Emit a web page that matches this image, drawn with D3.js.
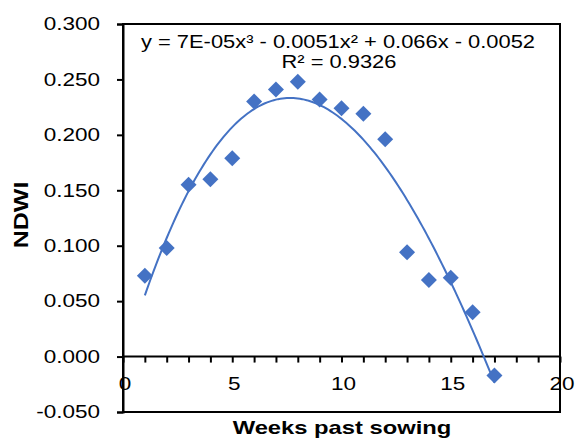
<!DOCTYPE html>
<html>
<head>
<meta charset="utf-8">
<script src="https://cdn.jsdelivr.net/npm/d3@7"></script>
<style>
  body { margin: 0; background: #fff; }
  svg text { font-family: "Liberation Sans", Arial, sans-serif; fill: #000; }
</style>
</head>
<body>
<svg id="chart" width="582" height="440"></svg>
<script>
// data
var weeks = [1, 2, 3, 4, 5, 6, 7, 8, 9, 10, 11, 12, 13, 14, 15, 16, 17];
var ndwi = [0.073, 0.098, 0.155, 0.160, 0.179, 0.230, 0.241, 0.248, 0.232,
            0.224, 0.219, 0.196, 0.094, 0.069, 0.071, 0.040, -0.017];
var xTicks = [0, 5, 10, 15, 20];
var yTicks = [-0.05, 0, 0.05, 0.1, 0.15, 0.2, 0.25, 0.3];
var eqText = "y = 7E-05x\u00b3  - 0.0051x\u00b2  + 0.066x - 0.0052";
var r2Text = "R\u00b2 = 0.9326";

var svg = d3.select("#chart");
var plotL = 123, plotR = 560, plotT = 24, plotB = 412;
var blue = "#4472c4";
var stretch = 1.25; // the source text is drawn wide

var x = d3.scaleLinear().domain([0, 20]).range([plotL, plotR]);
var y = d3.scaleLinear().domain([-0.05, 0.3]).range([plotB, plotT]);

// widen text glyphs to match the reference
function widen(sel) {
  sel.each(function() {
    var w = this.getComputedTextLength();
    d3.select(this).attr("textLength", w * stretch).attr("lengthAdjust", "spacingAndGlyphs");
  });
}

// cubic least squares, like the spreadsheet trendline
function polyfit(xs, ys, deg) {
  var n = deg + 1;
  var A = [];
  for (var i = 0; i < n; i++) {
    A.push([]);
    for (var j = 0; j <= n; j++) A[i].push(0);
  }
  xs.forEach(function(xv, k) {
    for (var i = 0; i < n; i++) {
      for (var j = 0; j < n; j++) A[i][j] += Math.pow(xv, i + j);
      A[i][n] += ys[k] * Math.pow(xv, i);
    }
  });
  for (var c = 0; c < n; c++) {
    var p = c;
    for (var r = c + 1; r < n; r++) if (Math.abs(A[r][c]) > Math.abs(A[p][c])) p = r;
    var tmp = A[c]; A[c] = A[p]; A[p] = tmp;
    for (var r = 0; r < n; r++) {
      if (r == c) continue;
      var f = A[r][c] / A[c][c];
      for (var j = c; j <= n; j++) A[r][j] -= f * A[c][j];
    }
  }
  return A.map(function(row, i) { return row[n] / row[i]; });
}
var coef = polyfit(weeks, ndwi, 3);
function fit(v) { return coef[0] + coef[1] * v + coef[2] * v * v + coef[3] * v * v * v; }

// plot frame
svg.append("rect")
  .attr("x", plotL).attr("y", plotT)
  .attr("width", plotR - plotL).attr("height", plotB - plotT)
  .attr("fill", "none").attr("stroke", "#000").attr("stroke-width", 2);

// y axis
var fmt = d3.format(".3f");
var yAxis = d3.axisLeft(y).tickValues(yTicks).tickSize(6).tickPadding(17)
  .tickFormat(function(d) { return fmt(d).replace("\u2212", "-"); });
var gy = svg.append("g").attr("transform", "translate(" + plotL + ",0)").call(yAxis);
gy.select(".domain").attr("stroke-width", 2);
gy.selectAll(".tick line").attr("stroke-width", 2);
gy.selectAll("text").attr("font-size", 18)
  .style("font-family", "Liberation Sans, Arial, sans-serif")
  .call(widen);

// x axis sits on y = 0
var xAxis = d3.axisBottom(x).ticks(20).tickSize(6).tickFormat("");
var gx = svg.append("g").attr("transform", "translate(0," + y(0) + ")").call(xAxis);
gx.select(".domain").attr("d", "M" + plotL + ",0H" + plotR).attr("stroke-width", 2);
gx.selectAll(".tick line").attr("stroke-width", 2);

svg.append("g").selectAll("text")
  .data(xTicks).enter()
  .append("text")
  .attr("x", function(d) { return x(d) + 2; })
  .attr("y", y(0) + 33)
  .attr("text-anchor", "middle")
  .attr("font-size", 18)
  .text(function(d) { return d; })
  .call(widen);

// trendline
var curveX = d3.range(1, 17.001, 0.1);
svg.append("path")
  .datum(curveX)
  .attr("fill", "none")
  .attr("stroke", blue)
  .attr("stroke-width", 2)
  .attr("d", d3.line().x(function(d) { return x(d); }).y(function(d) { return y(fit(d)); }));

// points
svg.append("g").selectAll("path")
  .data(weeks).enter()
  .append("path")
  .attr("transform", function(d, i) { return "translate(" + x(d) + "," + y(ndwi[i]) + ")"; })
  .attr("d", "M0,-8L8,0L0,8L-8,0Z")
  .attr("fill", blue);

// equation
svg.append("text")
  .attr("x", 338).attr("y", 48)
  .attr("text-anchor", "middle")
  .attr("font-size", 17.5)
  .text(eqText)
  .call(widen);
svg.append("text")
  .attr("x", 339).attr("y", 68)
  .attr("text-anchor", "middle")
  .attr("font-size", 17.5)
  .text(r2Text)
  .call(widen);

// axis titles
svg.append("text")
  .attr("transform", "translate(28,215) rotate(-90)")
  .attr("text-anchor", "middle")
  .attr("font-size", 20)
  .attr("font-weight", "bold")
  .text("NDWI")
  .call(widen);
svg.append("text")
  .attr("x", 342).attr("y", 434)
  .attr("text-anchor", "middle")
  .attr("font-size", 19)
  .attr("font-weight", "bold")
  .text("Weeks past sowing")
  .call(widen);
</script>
</body>
</html>
